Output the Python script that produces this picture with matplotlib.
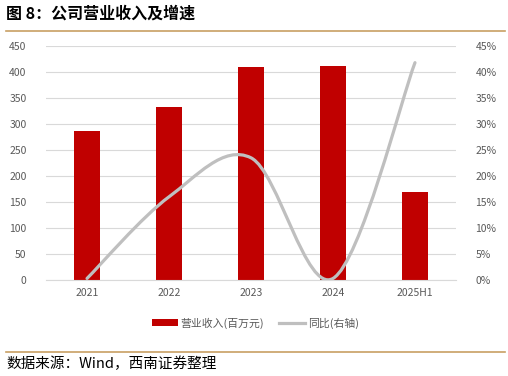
import matplotlib
matplotlib.use("Agg")
import matplotlib.pyplot as plt
from matplotlib.path import Path
from matplotlib.patches import PathPatch
import numpy as np

plt.rcParams['font.family'] = ['Noto Sans CJK SC', 'DejaVu Sans']

categories = ['2021', '2022', '2023', '2024', '2025H1']
revenue = [286, 333, 410, 412, 169]
yoy = [0.3, 16.0, 23.5, 0.3, 41.8]
left_ticks = [0, 50, 100, 150, 200, 250, 300, 350, 400, 450]
right_ticks = [0, 5, 10, 15, 20, 25, 30, 35, 40, 45]

fig = plt.figure(figsize=(5.08, 3.76), dpi=100)
ax = fig.add_axes([0.0906, 0.2553, 0.807, 0.6223])
x = np.arange(len(categories))
ax.bar(x, revenue, width=0.32, color='#C00000', zorder=2, label='营业收入(百万元)')
ax.set_xlim(-0.5, len(categories) - 0.5)
ax.set_ylim(0, 450)
ax.set_yticks(left_ticks)
ax.set_xticks(x)
ax.set_xticklabels(categories)
ax.grid(axis='y', color='#D9D9D9', linewidth=0.8, zorder=0)
ax.set_axisbelow(True)
for s in ['top', 'right', 'left']:
    ax.spines[s].set_visible(False)
ax.spines['bottom'].set_color('#D9D9D9')
ax.tick_params(axis='both', length=0, labelsize=7.5, labelcolor='#595959', pad=6)
ax.tick_params(axis='y', pad=14)

ax2 = ax.twinx()
ax2.set_ylim(0, 45)
ax2.set_yticks(right_ticks)
ax2.set_yticklabels([f'{t}%' for t in right_ticks])
for s in ['top', 'right', 'left', 'bottom']:
    ax2.spines[s].set_visible(False)
ax2.tick_params(axis='y', length=0, labelsize=7.5, labelcolor='#595959', pad=14)

# smoothed line (Catmull-Rom style Bezier rendering of the data points)
px = list(x.astype(float))
py = list(yoy)
verts = [(px[0], py[0])]
codes = [Path.MOVETO]
n = len(px)
for i in range(n - 1):
    p0 = (px[i - 1], py[i - 1]) if i > 0 else (px[i], py[i])
    p1 = (px[i], py[i])
    p2 = (px[i + 1], py[i + 1])
    p3 = (px[i + 2], py[i + 2]) if i + 2 < n else p2
    c1 = (p1[0] + (p2[0] - p0[0]) / 6, p1[1] + (p2[1] - p0[1]) / 6)
    c2 = (p2[0] - (p3[0] - p1[0]) / 6, p2[1] - (p3[1] - p1[1]) / 6)
    verts += [c1, c2, p2]
    codes += [Path.CURVE4] * 3
patch = PathPatch(Path(verts, codes), facecolor='none', edgecolor='#BFBFBF',
                  linewidth=2.3, capstyle='round', zorder=3)
ax2.add_patch(patch)
ax2.plot([], [], color='#BFBFBF', linewidth=2.3, label='同比(右轴)')

# legend
h1, l1 = ax.get_legend_handles_labels()
h2, l2 = ax2.get_legend_handles_labels()
leg = fig.legend(h1 + h2, l1 + l2, loc='center', bbox_to_anchor=(0.503, 0.141),
                 ncol=2, frameon=False, fontsize=7.8, handlelength=2.4,
                 handleheight=0.6, columnspacing=1.4, handletextpad=0.25)
for t in leg.get_texts():
    t.set_color('#595959')

# title and source
fig.text(0.012, 0.963, '图 8：公司营业收入及增速', fontsize=11.5, fontweight='bold',
         va='center', ha='left', color='black')
fig.add_artist(plt.Line2D([0.012, 0.995], [0.918, 0.918], color='#C8A064', linewidth=1.2))
fig.add_artist(plt.Line2D([0.012, 0.995], [0.064, 0.064], color='#C8A064', linewidth=1.2))
fig.text(0.012, 0.032, '数据来源：Wind，西南证券整理', fontsize=10.5, style='italic',
         va='center', ha='left', color='black')

fig.savefig('out.png', dpi=100)
